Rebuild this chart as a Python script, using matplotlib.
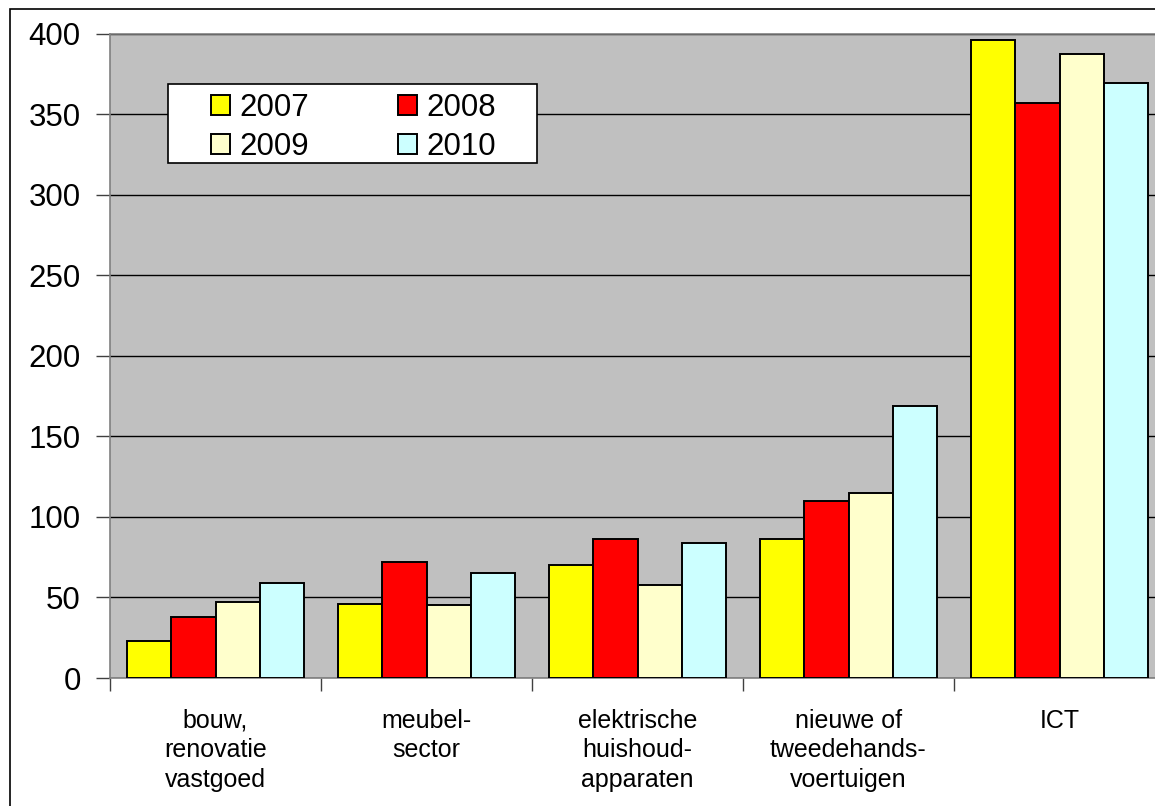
import matplotlib
matplotlib.use("Agg")
import matplotlib.pyplot as plt
from matplotlib.patches import Rectangle
import numpy as np

plt.rcParams['font.family'] = ['Liberation Sans', 'DejaVu Sans']

categories = ["bouw,\nrenovatie\nvastgoed", "meubel-\nsector", "elektrische\nhuishoud-\napparaten",
              "nieuwe of\ntweedehands-\nvoertuigen", "ICT"]
years = ["2007", "2008", "2009", "2010"]
v2007 = [23, 46, 70, 86, 396]
v2008 = [38, 72, 86, 110, 357]
v2009 = [47, 45, 58, 115, 387]
v2010 = [59, 65, 84, 169, 369]
series = [v2007, v2008, v2009, v2010]
colors = ["#FFFF00", "#FF0000", "#FFFFCC", "#CCFFFF"]
yticks = [0, 50, 100, 150, 200, 250, 300, 350, 400]

W, H = 1155, 806
fig = plt.figure(figsize=(W / 100, H / 100), dpi=100)
fig.patch.set_facecolor("white")

def fx(px):
    return px / W

def fy(py):
    return 1 - py / H

# outer chart border (extends past the image edge)
fig.patches.append(Rectangle((fx(10), -0.1), 1.2, fy(9) + 0.1, transform=fig.transFigure,
                             fill=False, edgecolor="black", linewidth=1.2))

left, right, top, bottom = 110, 110 + 5 * 211, 33.5, 678
ax = fig.add_axes([fx(left), fy(bottom), (right - left) / W, (bottom - top) / H])
ax.set_facecolor("#C0C0C0")

n = len(categories)
x = np.arange(n)
bw = 0.21
handles = []
for i, (vals, c, lab) in enumerate(zip(series, colors, years)):
    b = ax.bar(x + (i - 1.5) * bw, vals, bw, color=c, edgecolor="black", linewidth=1.4,
               label=lab, zorder=3)
    handles.append(b)

ax.set_xlim(-0.5, n - 0.5)
ax.set_ylim(0, 400)
ax.set_yticks(yticks)
ax.yaxis.grid(True, color="black", linewidth=1.0, zorder=1)
ax.set_axisbelow(True)
ax.tick_params(axis="y", length=10, width=1, color="#404040", labelsize=22.5, pad=11)
ax.set_xticks(np.arange(-0.5, n, 1.0))
ax.set_xticklabels([])
ax.set_xticks(x, minor=True)
ax.set_xticklabels(categories, minor=True, fontsize=18, linespacing=1.3)
ax.tick_params(axis="x", which="major", length=9, width=1, color="#404040")
ax.tick_params(axis="x", which="minor", length=0, pad=22)
for s in ["left", "bottom", "top"]:
    ax.spines[s].set_color("#808080")
    ax.spines[s].set_linewidth(1.2)
ax.spines["right"].set_visible(False)

# legend box
ax.add_patch(Rectangle((fx(168), fy(163)), fx(537) - fx(168), fy(84) - fy(163),
                       transform=fig.transFigure, facecolor="white", edgecolor="black",
                       linewidth=1.2, zorder=4, clip_on=False))
order = [0, 2, 1, 3]
leg = ax.legend([handles[k] for k in order], [years[k] for k in order], ncol=2,
                loc="center left", bbox_to_anchor=(fx(211), fy(127.5)),
                bbox_transform=fig.transFigure, fontsize=22.5, frameon=False,
                handlelength=0.6, handleheight=0.6, handletextpad=0.3,
                columnspacing=2.85, borderpad=0, labelspacing=0.3,
                borderaxespad=0)
leg.set_zorder(5)

fig.savefig("out.png", dpi=100)
